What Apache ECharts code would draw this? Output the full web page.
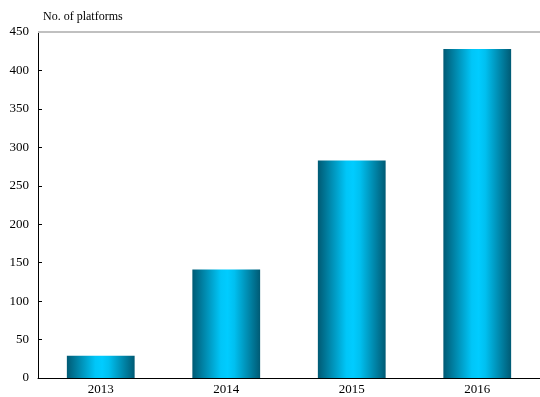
<!DOCTYPE html>
<html><head><meta charset="utf-8">
<script src="https://cdn.jsdelivr.net/npm/echarts@6/dist/echarts.min.js"></script>
<style>html,body{margin:0;padding:0;background:#fff}#c{width:540px;height:397px}</style>
</head><body><div id="c"></div>
<script>
const categories = ['2013', '2014', '2015', '2016'];
const platforms = [29, 141, 283, 428];
const yTicks = [0, 50, 100, 150, 200, 250, 300, 350, 400, 450];

const chart = echarts.init(document.getElementById('c'), null, {renderer: 'canvas'});
const grad = new echarts.graphic.LinearGradient(0, 0, 1, 0, [
  {offset: 0, color: '#005a74'},
  {offset: 0.42, color: '#00c6f8'},
  {offset: 0.52, color: '#00ccff'},
  {offset: 0.62, color: '#00c0f0'},
  {offset: 1, color: '#005a74'}
]);
chart.setOption({
  animation: false,
  textStyle: {fontFamily: 'Liberation Serif'},
  grid: {left: 38, right: 0, top: 32, bottom: 19, containLabel: false},
  title: {text: 'No. of platforms', left: 38, top: 6,
    textStyle: {fontFamily: 'Liberation Serif', fontSize: 12, fontWeight: 'normal', color: '#000'}},
  xAxis: {
    type: 'category', data: categories,
    axisLine: {lineStyle: {color: '#000', width: 1}},
    axisTick: {inside: true, length: 4, lineStyle: {color: '#000'}},
    axisLabel: {color: '#000', fontSize: 13, margin: 5, fontFamily: 'Liberation Serif'},
    splitLine: {show: false}
  },
  yAxis: {
    type: 'value', min: yTicks[0], max: yTicks[yTicks.length - 1], interval: 50,
    axisLine: {show: true, lineStyle: {color: '#000', width: 1}},
    axisTick: {show: true, inside: true, length: 4, lineStyle: {color: '#000'}},
    axisLabel: {color: '#000', fontSize: 13, margin: 9, fontFamily: 'Liberation Serif'},
    splitLine: {show: false}
  },
  series: [{
    type: 'bar', data: platforms, barWidth: '54%',
    itemStyle: {color: grad}
  }, {
    type: 'line', data: [], markLine: {
      silent: true, symbol: 'none', label: {show: false},
      lineStyle: {color: '#c0c0c0', type: 'solid', width: 2},
      data: [{yAxis: 450}]
    }
  }]
});
</script></body></html>
